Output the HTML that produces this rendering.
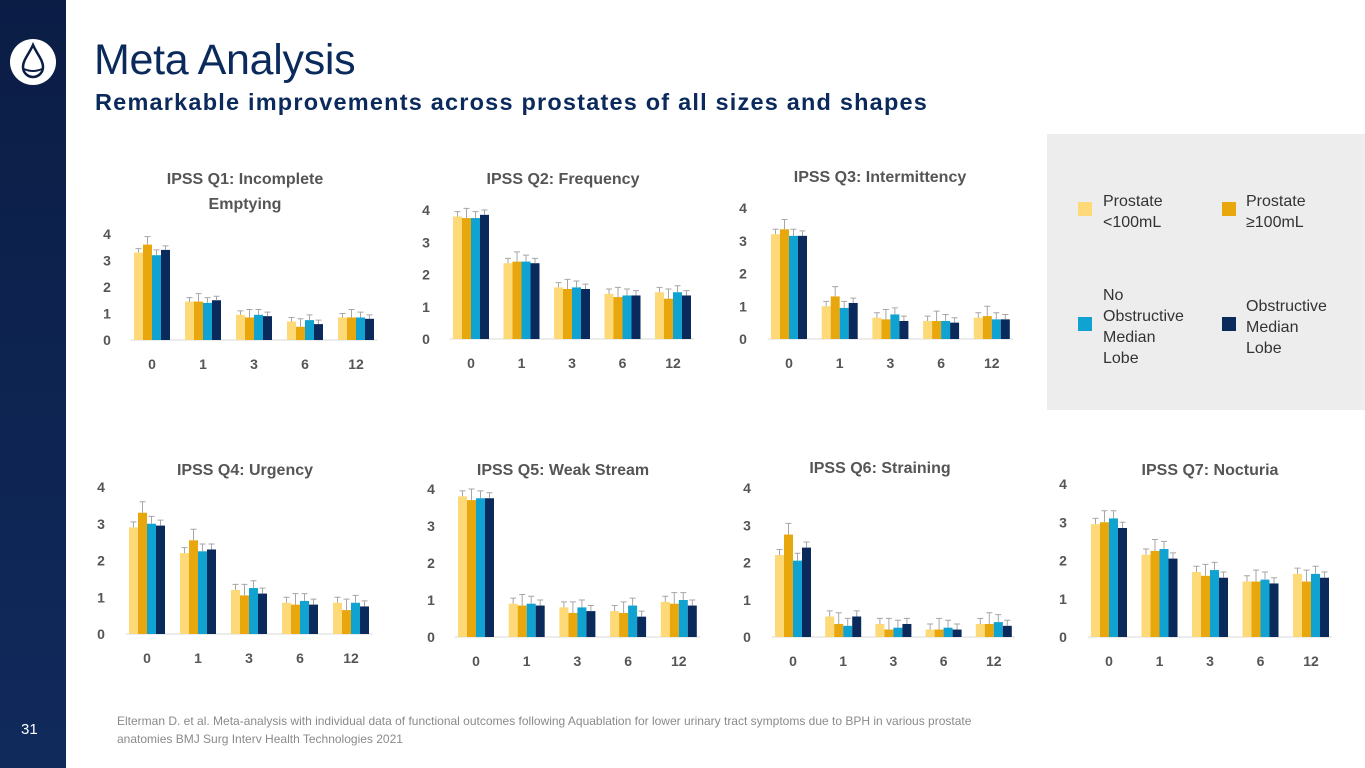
<!DOCTYPE html>
<html><head><meta charset="utf-8">
<style>
body{margin:0;width:1365px;height:768px;overflow:hidden;background:#fff;font-family:"Liberation Sans",sans-serif;position:relative}
.abs{position:absolute}
#side{left:0;top:0;width:66px;height:768px;background:linear-gradient(#0b1d45,#102a5c)}
#title{left:94px;top:36px;font-size:43px;color:#0b2a5c;letter-spacing:-0.3px}
#sub{left:95px;top:89px;font-size:23.5px;font-weight:bold;color:#0b2a5c;letter-spacing:1.2px}
#legend{left:1047px;top:134px;width:318px;height:276px;background:#ededed}
.lsq{width:14px;height:14px}
.ltx{font-size:16px;color:#333;line-height:21px}
#foot{left:117px;top:712px;font-size:12px;color:#8a8a8a;line-height:18px;width:900px}
#pg{left:21px;top:721px;font-size:15px;color:#fff}
</style></head><body>
<div id="side" class="abs">
<svg class="abs" style="left:9px;top:38px" width="48" height="48">
<circle cx="24" cy="24" r="23" fill="#fff"/>
<path d="M24 7 C20 16 14 22 14 29 a10 10 0 0 0 20 0 C34 22 28 16 24 7Z" fill="none" stroke="#0b1d45" stroke-width="2.5"/>
<path d="M15 31 Q24 35 33 31" fill="none" stroke="#0b1d45" stroke-width="2"/>
</svg>
</div>
<div id="pg" class="abs">31</div>
<div id="title" class="abs">Meta Analysis</div>
<div id="sub" class="abs">Remarkable improvements across prostates of all sizes and shapes</div>
<div id="legend" class="abs">
 <div class="abs lsq" style="left:31px;top:68px;background:#fdd978"></div>
 <div class="abs ltx" style="left:56px;top:57px">Prostate<br>&lt;100mL</div>
 <div class="abs lsq" style="left:175px;top:68px;background:#e8a70c"></div>
 <div class="abs ltx" style="left:199px;top:57px">Prostate<br>≥100mL</div>
 <div class="abs lsq" style="left:31px;top:183px;background:#10a2d0"></div>
 <div class="abs ltx" style="left:56px;top:151px">No<br>Obstructive<br>Median<br>Lobe</div>
 <div class="abs lsq" style="left:175px;top:183px;background:#0b2a5c"></div>
 <div class="abs ltx" style="left:199px;top:162px">Obstructive<br>Median<br>Lobe</div>
</div>
<div id="foot" class="abs">Elterman D. et al. Meta-analysis with individual data of functional outcomes following Aquablation for lower urinary tract symptoms due to BPH in various prostate anatomies BMJ Surg Interv Health Technologies 2021</div>
<svg id="charts" class="abs" style="left:0;top:0" width="1365" height="768"></svg>
<script>
const categories=["0","1","3","6","12"];
const yTicks=[0,1,2,3,4];
const seriesNames=["Prostate <100mL","Prostate ≥100mL","No Obstructive Median Lobe","Obstructive Median Lobe"];
const chartTitles=[["IPSS Q1: Incomplete","Emptying"],["IPSS Q2: Frequency"],["IPSS Q3: Intermittency"],["IPSS Q4: Urgency"],["IPSS Q5: Weak Stream"],["IPSS Q6: Straining"],["IPSS Q7: Nocturia"]];
const q1=[[3.3,3.6,3.2,3.4],[1.45,1.45,1.4,1.5],[0.95,0.85,0.95,0.9],[0.7,0.5,0.75,0.6],[0.85,0.85,0.85,0.8]];
const q2=[[3.8,3.75,3.75,3.85],[2.35,2.4,2.4,2.35],[1.6,1.55,1.6,1.55],[1.4,1.3,1.35,1.35],[1.45,1.25,1.45,1.35]];
const q3=[[3.2,3.35,3.15,3.15],[1.0,1.3,0.95,1.1],[0.65,0.6,0.75,0.55],[0.55,0.55,0.55,0.5],[0.65,0.7,0.6,0.6]];
const q4=[[2.9,3.3,3.0,2.95],[2.2,2.55,2.25,2.3],[1.2,1.05,1.25,1.1],[0.85,0.8,0.9,0.8],[0.85,0.65,0.85,0.75]];
const q5=[[3.8,3.7,3.75,3.75],[0.9,0.85,0.9,0.85],[0.8,0.65,0.8,0.7],[0.7,0.65,0.85,0.55],[0.95,0.9,1.0,0.85]];
const q6=[[2.2,2.75,2.05,2.4],[0.55,0.35,0.3,0.55],[0.35,0.2,0.25,0.35],[0.2,0.2,0.25,0.2],[0.35,0.35,0.4,0.3]];
const q7=[[2.95,3.0,3.1,2.85],[2.15,2.25,2.3,2.05],[1.7,1.6,1.75,1.55],[1.45,1.45,1.5,1.4],[1.65,1.45,1.65,1.55]];
const errors=[0.15,0.3,0.2,0.15];
const chartData=[q1,q2,q3,q4,q5,q6,q7];
const colors=["#fdd978","#e8a70c","#10a2d0","#0b2a5c"];
const layouts=[[107,340,234,152,51,245,184],[426,339,210,471,50.5,563,184],[743,339,208,789,50.7,880,182],[101,634,487,147,51,245,475],[431,637,489,476,50.7,563,475],[747,637,488,793,50.2,880,473],[1063,637,484,1109,50.5,1210,475]];
const NS="http://www.w3.org/2000/svg";
const svg=document.getElementById('charts');
function mk(t,a,p){const e=document.createElementNS(NS,t);for(const k in a)e.setAttribute(k,a[k]);(p||svg).appendChild(e);return e;}
chartData.forEach((data,ci)=>{
 const [lx,y0,y4,cx0,step,tcx,ty]=layouts[ci];
 const g=mk('g',{});
 
 
 const ys=v=>y0-(v/4)*(y0-y4);
 const xs=i=>cx0+i*step;
 chartTitles[ci].forEach((t,k)=>{const e=mk('text',{x:tcx,y:ty+k*25,'text-anchor':'middle','font-size':16,'font-weight':'bold',fill:'#555'},g);e.textContent=t;
  });
 yTicks.forEach(v=>{const e=mk('text',{x:lx,y:ys(v)+5,'text-anchor':'middle','font-size':14,'font-weight':'bold',fill:'#555'},g);e.textContent=v;
  });
 const ax=mk('line',{x1:xs(0)-step/2+4,x2:xs(4)+step/2-4,y1:y0,y2:y0,stroke:'#d9d9d9','stroke-width':1},g);
 
 categories.forEach((c,i)=>{
  const e=mk('text',{x:xs(i),y:y0+29,'text-anchor':'middle','font-size':14,'font-weight':'bold',fill:'#555'},g);e.textContent=c;
  
  data[i].forEach((v,s)=>{
   const bw=9,x=xs(i)-18+s*bw;
   const r=mk('rect',{x:x,y:ys(v),width:bw,height:y0-ys(v),fill:colors[s]},g);
   
   const et=ys(v+errors[s]);
   const el=mk('path',{d:`M${x+bw/2} ${ys(v)}V${et}M${x+1.5} ${et}H${x+bw-1.5}`,stroke:'#a6a6a6','stroke-width':1,fill:'none'},g);
   
  });
 });
});
</script>
</body></html>
